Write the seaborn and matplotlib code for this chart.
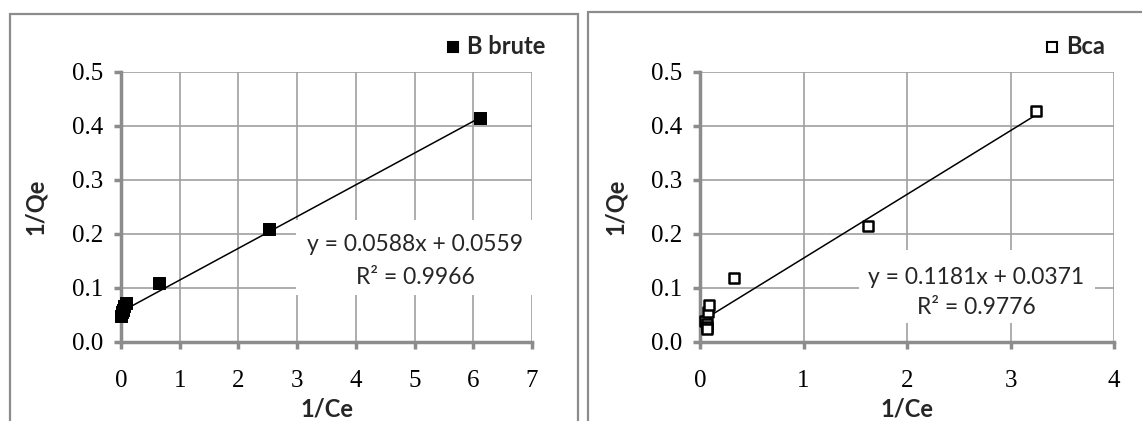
import numpy as np
import pandas as pd
import seaborn as sns
import matplotlib.pyplot as plt
from matplotlib.patches import Rectangle

# ---- data ----
brute_x = [0.00, 0.01, 0.03, 0.05, 0.08, 0.65, 2.52, 6.12]
brute_y = [0.048, 0.055, 0.060, 0.066, 0.072, 0.110, 0.210, 0.415]
bca_x = [0.05, 0.07, 0.07, 0.07, 0.08, 0.09, 0.33, 1.62, 3.25]
bca_y = [0.038, 0.034, 0.028, 0.024, 0.055, 0.068, 0.118, 0.215, 0.428]
brute_fit = (0.0588, 0.0559)
bca_fit = (0.1181, 0.0371)
brute_eq = ["y = 0.0588x + 0.0559", "R² = 0.9966"]
bca_eq = ["y = 0.1181x + 0.0371", "R² = 0.9776"]
series_names = ["B brute", "Bca"]
x_label = "1/Ce"
y_label = "1/Qe"
brute_xticks = [0, 1, 2, 3, 4, 5, 6, 7]
bca_xticks = [0, 1, 2, 3, 4]
yticks = [0.0, 0.1, 0.2, 0.3, 0.4, 0.5]

sns.set_theme(style="white")
plt.rcParams['font.family'] = ['Lato', 'DejaVu Sans']

W, H = 1142, 421
fig = plt.figure(figsize=(W / 100, H / 100), dpi=100)

def px_ax(x0, x1, y0, y1):
    return fig.add_axes([x0 / W, 1 - y1 / H, (x1 - x0) / W, (y1 - y0) / H])

# outer frames
for (fx0, fx1, fy0) in [(10, 578, 14), (588, 1150, 12)]:
    fig.add_artist(Rectangle((fx0 / W, -0.1), (fx1 - fx0) / W, 1 - fy0 / H + 0.1,
                             transform=fig.transFigure, fill=False,
                             edgecolor='#8c8c8c', linewidth=1.6))

panels = [
    dict(ax=px_ax(121, 532, 72, 342), x=brute_x, y=brute_y, fit=brute_fit, eq=brute_eq,
         name=series_names[0], xticks=brute_xticks, xlim=(0, 7), filled=True,
         eqpos=(415, 244, 277), box=(296, 533, 220, 295), ylabx=35, leg=(453, 47)),
    dict(ax=px_ax(700, 1114, 72, 342), x=bca_x, y=bca_y, fit=bca_fit, eq=bca_eq,
         name=series_names[1], xticks=bca_xticks, xlim=(0, 4), filled=False,
         eqpos=(976, 277, 307), box=(859, 1095, 250, 323), ylabx=615, leg=(1052, 47)),
]

for p in panels:
    ax = p['ax']
    ax.set_xlim(*p['xlim'])
    ax.set_ylim(0, 0.5)
    ax.set_xticks(p['xticks'])
    ax.set_yticks(yticks)
    ax.set_xticklabels([str(t) for t in p['xticks']], fontfamily='Liberation Serif', fontsize=18)
    ax.set_yticklabels([f"{t:.1f}" for t in yticks], fontfamily='Liberation Serif', fontsize=18)
    ax.grid(True, color='#a0a0a0', linewidth=1.2)
    ax.set_axisbelow(True)
    for s in ['top', 'right']:
        ax.spines[s].set_visible(False)
    for s in ['left', 'bottom']:
        ax.spines[s].set_color('#8c8c8c')
        ax.spines[s].set_linewidth(2.5)
    ax.tick_params(axis='both', which='major', direction='out', length=5, width=2.5,
                   color='#8c8c8c', left=True, bottom=True, labelcolor='black')
    ax.tick_params(axis='x', pad=15)
    ax.tick_params(axis='y', pad=8)

    # white box behind the equation
    bx0, bx1, by0, by1 = p['box']
    fig.add_artist(Rectangle((bx0 / W, 1 - by1 / H), (bx1 - bx0) / W, (by1 - by0) / H,
                             transform=fig.transFigure, facecolor='white', edgecolor='none',
                             zorder=1.5))

    # fit line
    m, b = p['fit']
    xs = np.array([min(p['x']), max(p['x'])])
    sns.lineplot(x=xs, y=m * xs + b, ax=ax, color='black', linewidth=1.1, zorder=3)

    df = pd.DataFrame({'x': p['x'], 'y': p['y']})
    if p['filled']:
        sns.scatterplot(data=df, x='x', y='y', ax=ax, marker='s', s=80, color='black',
                        edgecolor='black', zorder=4, clip_on=False)
    else:
        sns.scatterplot(data=df, x='x', y='y', ax=ax, marker='s', s=60, facecolor='white',
                        edgecolor='black', linewidth=1.8, zorder=4, clip_on=False)
    ax.set_xlabel(x_label, fontsize=17, fontweight='bold', labelpad=4)
    ax.set_ylabel("")
    fig.text(p['ylabx'] / W, 1 - 207 / H, y_label, rotation=90, fontsize=17,
             fontweight='bold', ha='center', va='center')

    ex, ey1, ey2 = p['eqpos']
    fig.text(ex / W, 1 - ey1 / H, p['eq'][0], fontsize=16.5, ha='center', va='center', zorder=5)
    fig.text(ex / W, 1 - ey2 / H, p['eq'][1], fontsize=16.5, ha='center', va='center', zorder=5)

    # legend
    lx, ly = p['leg']
    fig.add_artist(plt.Line2D([lx / W], [1 - ly / H], marker='s', markersize=6.5,
                              markerfacecolor='black' if p['filled'] else 'white',
                              markeredgecolor='black', markeredgewidth=1.5,
                              linestyle='none', transform=fig.transFigure))
    fig.text((lx + 14) / W, 1 - ly / H, p['name'], fontsize=17, fontweight='bold',
             ha='left', va='center')

fig.savefig('out.png', dpi=100)
